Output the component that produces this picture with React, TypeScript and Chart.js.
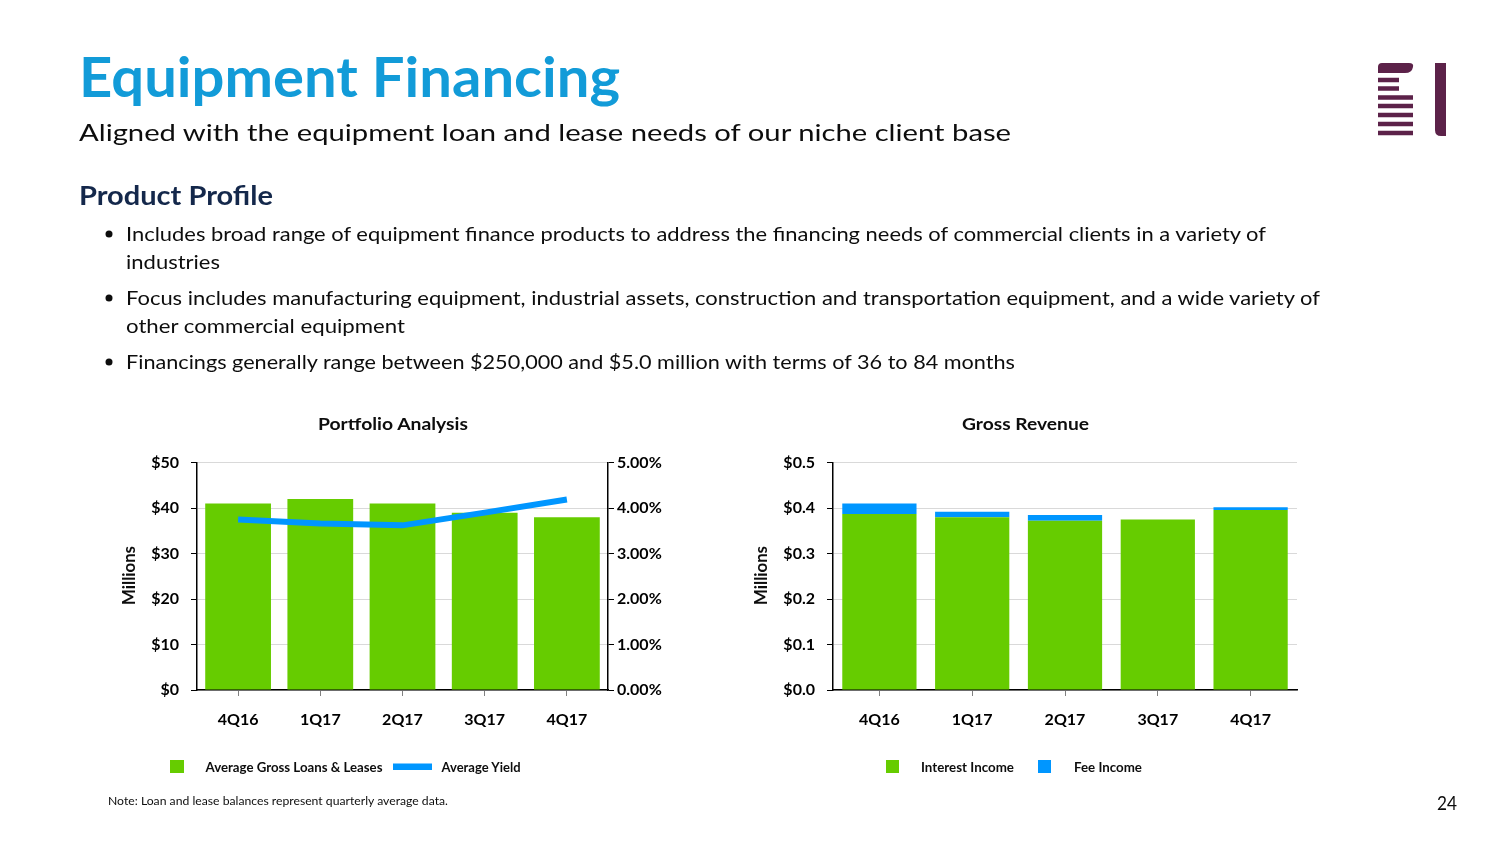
import React, { useEffect, useRef } from "react";
import { Chart, registerables } from "chart.js";

Chart.register(...registerables);

// ---------- data ----------
const quarters = ["4Q16", "1Q17", "2Q17", "3Q17", "4Q17"];
const avgGrossLoans = [41.0, 42.0, 41.0, 39.0, 38.0]; // $ millions
const avgYield = [3.75, 3.66, 3.62, 3.9, 4.19]; // %
const interestIncome = [0.387, 0.38, 0.372, 0.375, 0.396]; // $ millions
const feeIncome = [0.023, 0.012, 0.013, 0.0, 0.006]; // $ millions

const loanAxis = { min: 0, max: 50, step: 10 };
const yieldAxis = { min: 0, max: 5, step: 1 };
const revenueAxis = { min: 0, max: 0.5, step: 0.1 };

const bulletLines = [
  ["Includes broad range of equipment finance products to address the financing needs of commercial clients in a variety of", "industries"],
  ["Focus includes manufacturing equipment, industrial assets, construction and transportation equipment, and a wide variety of", "other commercial equipment"],
  ["Financings generally range between $250,000 and $5.0 million with terms of 36 to 84 months"],
];

// ---------- styles ----------
const FONT = "Lato";
const GREEN = "#66cc00";
const BLUE = "#0096ff";
const tickFont = { family: FONT, size: 16, weight: "bold" as const };

function xScale(stacked: boolean) {
  return {
    stacked,
    grid: {
      display: true,
      drawOnChartArea: false,
      drawTicks: true,
      tickLength: 6,
      offset: false,
      color: "#808080",
      tickColor: "#808080",
    },
    border: { display: true, color: "#000", width: 1.5 },
    ticks: { font: tickFont, color: "#000", padding: 14, maxRotation: 0 },
    afterFit: (s: any) => {
      s.height = 50;
    },
  };
}

function PortfolioChart() {
  const ref = useRef<HTMLCanvasElement>(null);
  useEffect(() => {
    const chart = new Chart(ref.current!, {
      type: "bar",
      data: {
        labels: quarters,
        datasets: [
          {
            type: "line" as const,
            label: "Average Yield",
            data: avgYield,
            borderColor: BLUE,
            backgroundColor: BLUE,
            borderWidth: 6,
            pointRadius: 0,
            tension: 0,
            yAxisID: "y1",
            order: 0,
          } as any,
          {
            type: "bar" as const,
            label: "Average Gross Loans & Leases",
            data: avgGrossLoans,
            backgroundColor: GREEN,
            barPercentage: 0.8,
            categoryPercentage: 1,
            yAxisID: "y",
            order: 1,
          },
        ],
      },
      options: {
        responsive: false,
        animation: false,
        layout: { padding: { top: 20, right: 0, left: 0, bottom: 0 } },
        plugins: { legend: { display: false }, tooltip: { enabled: false }, title: { display: false } },
        scales: {
          x: xScale(false) as any,
          y: {
            position: "left",
            min: loanAxis.min,
            max: loanAxis.max,
            ticks: {
              stepSize: loanAxis.step,
              font: tickFont,
              color: "#000",
              padding: 12,
              callback: (v: any) => "$" + v,
            },
            grid: { color: "#d9d9d9", tickColor: "#000", tickLength: 6, lineWidth: 1 },
            border: { color: "#000", width: 1.5 },
            afterFit: (s: any) => {
              s.width = 97;
            },
          },
          y1: {
            position: "right",
            min: yieldAxis.min,
            max: yieldAxis.max,
            ticks: {
              stepSize: yieldAxis.step,
              font: tickFont,
              color: "#000",
              padding: 3,
              callback: (v: any) => Number(v).toFixed(2) + "%",
            },
            grid: { drawOnChartArea: false, tickColor: "#000", tickLength: 6 },
            border: { color: "#000", width: 1.5 },
            afterFit: (s: any) => {
              s.width = 92;
            },
          },
        },
      },
    });
    return () => chart.destroy();
  }, []);
  return (
    <canvas
      ref={ref}
      width={600}
      height={299}
      style={{ position: "absolute", left: 100, top: 441, width: 600, height: 299 }}
    />
  );
}

function RevenueChart() {
  const ref = useRef<HTMLCanvasElement>(null);
  useEffect(() => {
    const chart = new Chart(ref.current!, {
      type: "bar",
      data: {
        labels: quarters,
        datasets: [
          {
            label: "Interest Income",
            data: interestIncome,
            backgroundColor: GREEN,
            barPercentage: 0.8,
            categoryPercentage: 1,
          },
          {
            label: "Fee Income",
            data: feeIncome,
            backgroundColor: BLUE,
            barPercentage: 0.8,
            categoryPercentage: 1,
          },
        ],
      },
      options: {
        responsive: false,
        animation: false,
        layout: { padding: { top: 20, right: 13, left: 0, bottom: 0 } },
        plugins: { legend: { display: false }, tooltip: { enabled: false }, title: { display: false } },
        scales: {
          x: xScale(true) as any,
          y: {
            stacked: true,
            position: "left",
            min: revenueAxis.min,
            max: revenueAxis.max,
            ticks: {
              stepSize: revenueAxis.step,
              font: tickFont,
              color: "#000",
              padding: 12,
              callback: (v: any) => "$" + Number(v).toFixed(1),
            },
            grid: { color: "#d9d9d9", tickColor: "#000", tickLength: 6, lineWidth: 1 },
            border: { color: "#000", width: 1.5 },
            afterFit: (s: any) => {
              s.width = 93;
            },
          },
        },
      },
    });
    return () => chart.destroy();
  }, []);
  return (
    <canvas
      ref={ref}
      width={570}
      height={299}
      style={{ position: "absolute", left: 740, top: 441, width: 570, height: 299 }}
    />
  );
}

type TProps = {
  x: number;
  y: number;
  w: number;
  size: number;
  bold?: boolean;
  fill?: string;
  children: string;
  transform?: string;
  anchor?: "start" | "middle";
};

function T({ x, y, w, size, bold, fill = "#0d0d0d", children, transform, anchor = "start" }: TProps) {
  return (
    <text
      x={x}
      y={y}
      fontSize={size}
      fontWeight={bold ? 700 : 400}
      fill={fill}
      textLength={w}
      lengthAdjust="spacingAndGlyphs"
      transform={transform}
      textAnchor={anchor}
      fontFamily={FONT}
    >
      {children}
    </text>
  );
}

function Overlay() {
  const bulletBaselines = [
    [241, 269],
    [305, 333],
    [369],
  ];
  const bulletWidths = [
    [1140, 94],
    [1194, 279],
    [889],
  ];
  const LOGO = "#5c2249";
  const stripeYs = [80, 88.5, 97.5, 106, 115, 124, 133];
  return (
    <svg
      width={1504}
      height={846}
      style={{ position: "absolute", left: 0, top: 0, pointerEvents: "none" }}
    >
      <T x={79} y={97} w={541} size={55} bold fill="#129bd8">Equipment Financing</T>
      <T x={79} y={140.5} w={932} size={24}>Aligned with the equipment loan and lease needs of our niche client base</T>
      <T x={79} y={205} w={194} size={26} bold fill="#14284b">Product Profile</T>
      {bulletLines.map((lines, i) => (
        <g key={i}>
          <circle cx={109} cy={bulletBaselines[i][0] - 7} r={3.5} fill="#0d0d0d" />
          {lines.map((line, j) => (
            <T key={j} x={126} y={bulletBaselines[i][j]} w={bulletWidths[i][j]} size={20}>
              {line}
            </T>
          ))}
        </g>
      ))}

      {/* chart titles */}
      <T x={318} y={429.5} w={150} size={17.5} bold>Portfolio Analysis</T>
      <T x={962} y={429.5} w={127} size={17.5} bold>Gross Revenue</T>

      {/* axis titles */}
      <T x={0} y={0} w={59} size={16.5} bold anchor="middle" transform="translate(135,575.5) rotate(-90)">Millions</T>
      <T x={0} y={0} w={59} size={16.5} bold anchor="middle" transform="translate(767,575.5) rotate(-90)">Millions</T>

      {/* legends */}
      <rect x={170} y={760} width={14} height={13} fill={GREEN} />
      <T x={205.5} y={772} w={177} size={12.5} bold>Average Gross Loans &amp; Leases</T>
      <rect x={393} y={763.5} width={39} height={6.5} fill={BLUE} />
      <T x={441.5} y={772} w={79} size={12.5} bold>Average Yield</T>

      <rect x={886} y={760} width={13} height={13} fill={GREEN} />
      <T x={921} y={772} w={93} size={12.5} bold>Interest Income</T>
      <rect x={1038} y={760} width={13} height={13} fill={BLUE} />
      <T x={1074} y={772} w={68} size={12.5} bold>Fee Income</T>

      {/* footer */}
      <T x={108} y={805} w={340} size={11}>Note: Loan and lease balances represent quarterly average data.</T>
      <T x={1437} y={810} w={20} size={19}>24</T>

      {/* logo */}
      <path d="M1378,73 L1378,67 Q1378,63 1382,63 L1409,63 Q1414,63 1413,67 Q1412,73 1405,73 Z" fill={LOGO} />
      {stripeYs.map((cy, i) => (
        <rect key={i} x={1378} y={cy - 2.25} width={i < 2 ? 21 : 35} height={4.5} fill={LOGO} />
      ))}
      <path d="M1435,63 L1446,63 L1446,136 L1441,136 Q1435,136 1435,130 Z" fill={LOGO} />
    </svg>
  );
}

export default function App() {
  return (
    <div
      style={{
        position: "absolute",
        left: 0,
        top: 0,
        width: 1504,
        height: 846,
        background: "#fff",
        overflow: "hidden",
        fontFamily: FONT,
      }}
    >
      <PortfolioChart />
      <RevenueChart />
      <Overlay />
    </div>
  );
}
